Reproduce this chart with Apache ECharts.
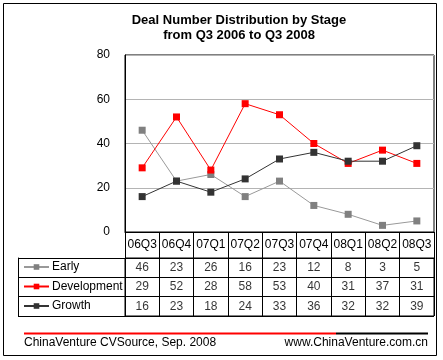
<!DOCTYPE html>
<html><head><meta charset="utf-8">
<script src="https://cdn.jsdelivr.net/npm/echarts@6/dist/echarts.min.js"></script>
<style>html,body{margin:0;padding:0;background:#fff}#c{width:443px;height:360px}</style>
</head><body><div id="c"></div>
<script>
var categories = ['06Q3','06Q4','07Q1','07Q2','07Q3','07Q4','08Q1','08Q2','08Q3'];
var seriesNames = ['Early','Development','Growth'];
var early = [46,23,26,16,23,12,8,3,5];
var development = [29,52,28,58,53,40,31,37,31];
var growth = [16,23,18,24,33,36,32,32,39];
var yTicks = [0,20,40,60,80];

var rows = [early, development, growth];
var tableData = [];
rows.forEach(function(r, ri){ r.forEach(function(v, ci){ tableData.push([categories[ci], seriesNames[ri], v]); }); });

var FONT = 'Arial, "Liberation Sans", sans-serif';
var chart = echarts.init(document.getElementById('c'), null, {renderer:'canvas'});
var lineColors = ['#999999','#ff0000','#333333'];
var markColors = ['#808080','#ff0000','#333333'];
var lineSeries = [early, development, growth].map(function(d, i){
  return {
    name: seriesNames[i], type: 'line', xAxisIndex: 0, yAxisIndex: 0, data: d,
    symbol: 'rect', symbolSize: 7, showSymbol: true,
    lineStyle: {color: lineColors[i], width: 1},
    itemStyle: {color: markColors[i]},
    z: 3 + i, animation: false
  };
});
chart.setOption({
  animation: false,
  title: [
    {text: 'Deal Number Distribution by Stage\nfrom Q3 2006 to Q3 2008', left: 239, top: 13, textAlign: 'center', padding: 0,
     textStyle: {fontFamily: FONT, fontSize: 13, fontWeight: 'bold', color: '#000', lineHeight: 15}},
    {text: 'ChinaVenture CVSource, Sep. 2008', left: 24, top: 337, textStyle: {fontFamily: FONT, fontSize: 12, fontWeight: 'normal', color: '#000'}, padding: 0},
    {text: 'www.ChinaVenture.com.cn', right: 15, top: 337, textStyle: {fontFamily: FONT, fontSize: 12, fontWeight: 'normal', color: '#000'}, padding: 0}
  ],
  legend: {
    data: seriesNames, orient: 'vertical', left: 23, top: 261, padding: 0,
    itemWidth: 25, itemHeight: 7, itemGap: 7.5,
    textStyle: {fontFamily: FONT, fontSize: 12, color: '#000', padding: [0,0,0,-2]},
    selectedMode: false
  },
  grid: [
    {left: 125, right: 9, top: 55, bottom: 128, show: true, borderColor: '#000', borderWidth: 1, containLabel: false},
    {left: 125, right: 9, top: 258, height: 58, show: true, borderColor: '#000', borderWidth: 1, containLabel: false}
  ],
  xAxis: [
    {type: 'category', gridIndex: 0, data: categories, boundaryGap: true,
     axisLine: {show: true, lineStyle: {color: '#000', width: 1}},
     axisTick: {show: true, inside: false, length: 26, lineStyle: {color: '#000'}},
     axisLabel: {fontFamily: FONT, fontSize: 12, color: '#000', margin: 7, interval: 0},
     splitLine: {show: false}},
    {type: 'category', gridIndex: 1, data: categories, boundaryGap: true,
     axisLine: {show: false}, axisTick: {show: false}, axisLabel: {show: false},
     splitLine: {show: true, interval: 0, lineStyle: {color: '#000', width: 1}}}
  ],
  yAxis: [
    {type: 'value', gridIndex: 0, min: 0, max: 80, interval: 20,
     axisLine: {show: true, lineStyle: {color: '#000'}}, axisTick: {show: false},
     axisLabel: {fontFamily: FONT, fontSize: 12, color: '#000', margin: 15},
     splitLine: {show: true, lineStyle: {color: '#b4b4b4', width: 1}}},
    {type: 'category', gridIndex: 1, data: seriesNames, inverse: true, boundaryGap: true,
     axisLine: {show: true, lineStyle: {color: '#000'}},
     axisTick: {show: true, inside: false, length: 107, lineStyle: {color: '#000'}},
     axisLabel: {show: false},
     splitLine: {show: true, interval: 0, lineStyle: {color: '#000', width: 1}}},
    {type: 'category', gridIndex: 1, data: seriesNames, inverse: true, position: 'left', offset: 107,
     axisLine: {show: true, lineStyle: {color: '#000'}}, axisTick: {show: false}, axisLabel: {show: false},
     splitLine: {show: false}}
  ],
  graphic: [
    {type: 'rect', shape: {x: 3.5, y: 3.5, width: 433, height: 352}, style: {fill: 'none', stroke: '#000', lineWidth: 1}, silent: true},
    {type: 'line', shape: {x1: 24, y1: 333.5, x2: 336, y2: 333.5}, style: {stroke: '#ff0000', lineWidth: 2}, silent: true},
    {type: 'line', shape: {x1: 336, y1: 333.5, x2: 428, y2: 333.5}, style: {stroke: '#000', lineWidth: 2}, silent: true}
  ],
  series: lineSeries.concat([{
    name: 'table', type: 'scatter', xAxisIndex: 1, yAxisIndex: 1, data: tableData,
    symbolSize: 1, itemStyle: {color: 'rgba(0,0,0,0)'},
    encode: {x: 0, y: 1},
    label: {show: true, position: 'inside', formatter: function(p){ return String(p.value[2]); },
            fontFamily: FONT, fontSize: 12, color: '#000'},
    emphasis: {disabled: true}
  }])
});
</script></body></html>
